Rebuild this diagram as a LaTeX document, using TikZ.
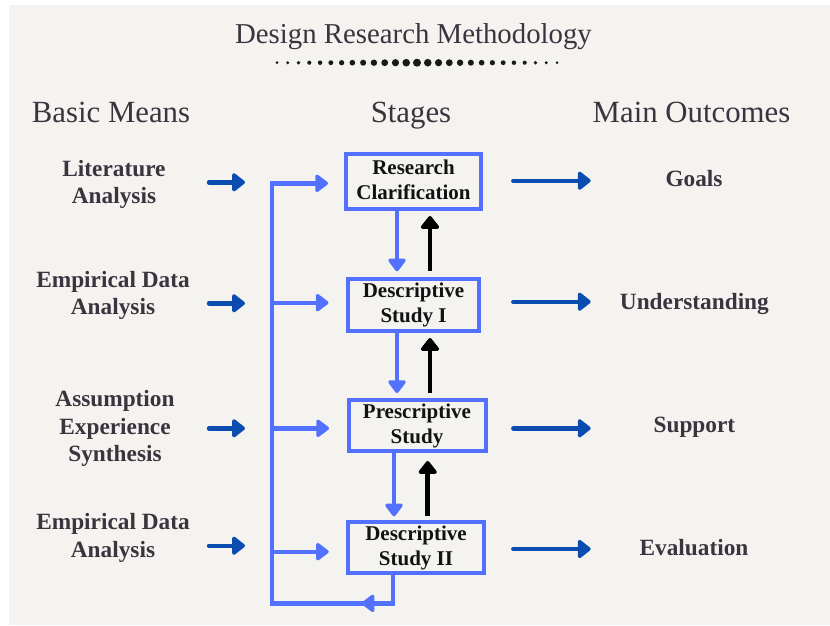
\documentclass[tikz,border=0pt]{standalone}
\usepackage{fontspec}
\setmainfont{Liberation Serif}
\usetikzlibrary{arrows.meta,calc}
\definecolor{bg}{HTML}{F4F3F0}
\definecolor{lb}{HTML}{5271FF}
\definecolor{db}{HTML}{0A4CB0}
\definecolor{tx}{HTML}{3A343F}
\definecolor{bx}{HTML}{121212}
\begin{document}
\begin{tikzpicture}[x=1pt,y=-1pt,
  lbl/.style={font=\fontsize{23.3}{27.3}\selectfont\bfseries, text=tx, align=center, inner sep=0pt},
  outlbl/.style={font=\fontsize{23.3}{27.3}\selectfont\bfseries, text=tx, anchor=base, inner sep=0pt},
  hdr/.style={font=\fontsize{30.8}{36}\selectfont, text=tx, anchor=base, inner sep=0pt},
  stagebox/.style={draw=lb, line width=4pt, font=\fontsize{21}{25}\selectfont\bfseries, text=bx, align=center, inner sep=0pt},
  lline/.style={draw=lb, line width=4.4pt},
  ltip/.style={-{Triangle[width=20pt,length=14pt,round]}},
  darrow/.style={draw=db, line width=4.4pt, line cap=round, -{Triangle[width=21pt,length=14pt,round]}},
  barrow/.style={draw=black, line width=4.6pt, -{Triangle[width=21pt,length=14pt,round]}}
]
\useasboundingbox (0,0) rectangle (830,625);
\fill[white] (0,0) rectangle (830,625);
\fill[bg] (9,5) rectangle (830,625);

% title and dotted rule
\node[font=\fontsize{28.8}{34}\selectfont, text=tx, anchor=base, inner sep=0pt] (title) at (413.5,43.3) {Design Research Methodology};
\foreach \i in {-13,...,13}
  \fill[black!90] ({417+10.77*\i},62.7) circle[radius={4.0-0.195*abs(\i)}];

% headers
\node[hdr] (hmeans) at (111,122.3) {Basic Means};
\node[hdr] (hstages) at (411,122.3) {Stages};
\node[hdr] (hout) at (691.5,122.3) {Main Outcomes};

% left labels
\node[lbl] (L1) at (114,184.2) {\strut Literature\\\strut Analysis};
\node[lbl] (L2) at (113,295.3) {\strut Empirical Data\\\strut Analysis};
\node[lbl] (L3) at (115,428.7) {\strut Assumption\\\strut Experience\\\strut Synthesis};
\node[lbl] (L4) at (113,537.9) {\strut Empirical Data\\\strut Analysis};

% stage boxes
\node[stagebox, minimum width=135pt, minimum height=55pt] (RC) at (413.5,181.5) {\strut Research\\\strut Clarification};
\node[stagebox, minimum width=131pt, minimum height=52pt] (DSI) at (413.5,305) {\strut Descriptive\\\strut Study I};
\node[stagebox, minimum width=137pt, minimum height=51pt] (PS) at (417,425.5) {\strut Prescriptive\\\strut Study};
\node[stagebox, minimum width=135.5pt, minimum height=51pt] (DSII) at (416,547.5) {\strut Descriptive\\\strut Study II};

% outcomes
\node[outlbl] (O1) at (694,186.7) {Goals};
\node[outlbl] (O2) at (694.4,309) {Understanding};
\node[outlbl] (O3) at (694.4,432.3) {Support};
\node[outlbl] (O4) at (694,555) {Evaluation};

% small arrows from basic means
\foreach \i/\y in {1/182.3,2/303.3,3/428.3,4/545.7}{
  \coordinate (ms\i) at (209,\y);
  \coordinate (me\i) at (245,\y);
  \draw[darrow] (ms\i) -- (me\i);
}
% arrows to outcomes
\foreach \i/\y in {1/180.7,2/301.7,3/428.3,4/549}{
  \coordinate (os\i) at (513.3,\y);
  \coordinate (oe\i) at (590.7,\y);
  \draw[darrow] (os\i) -- (oe\i);
}

% feedback loop and bus
\coordinate (loopR) at (392.7,603.3);
\coordinate (loopL) at (271.7,603.3);
\coordinate (loopTip) at (361.7,603.3);
\coordinate (b1) at (271.7,183.3);
\coordinate (b2) at (271.7,302.7);
\coordinate (b3) at (271.7,428.3);
\coordinate (b4) at (271.7,551.7);
\draw[lline, ltip, shorten >=16pt] ($(DSII.south)+(-23.3,0)$) -- (loopR) -- (loopL) -- (b1) -- (b1 -| RC.west);
\draw[lline, ltip] (loopR) -- (loopTip);
\draw[lline, ltip, shorten >=17.5pt] (b2) -- (b2 -| DSI.west);
\draw[lline, ltip, shorten >=17.5pt] (b3) -- (b3 -| PS.west);
\draw[lline, ltip, shorten >=17.5pt] (b4) -- (b4 -| DSII.west);

% forward (down) arrows
\draw[lline, ltip, shorten >=5.7pt] ($(RC.south)+(-16.5,0)$) -- ($(DSI.north)+(-16.5,0)$);
\draw[lline, ltip, shorten >=5pt] ($(DSI.south)+(-16.5,0)$) -- ($(PS.north)+(-20,0)$);
\draw[lline, ltip, shorten >=3.7pt] ($(PS.south)+(-23,0)$) -- ($(DSII.north)+(-22,0)$);

% backward (up) arrows
\draw[barrow, shorten <=5.7pt, shorten >=5pt] ($(DSI.north)+(16.5,0)$) -- ($(RC.south)+(16.5,0)$);
\draw[barrow, shorten <=5pt, shorten >=5pt] ($(PS.north)+(13,0)$) -- ($(DSI.south)+(16.5,0)$);
\draw[barrow, shorten <=4.3pt, shorten >=8pt] ($(DSII.north)+(11.7,0)$) -- ($(PS.south)+(10.7,0)$);
\end{tikzpicture}
\end{document}
